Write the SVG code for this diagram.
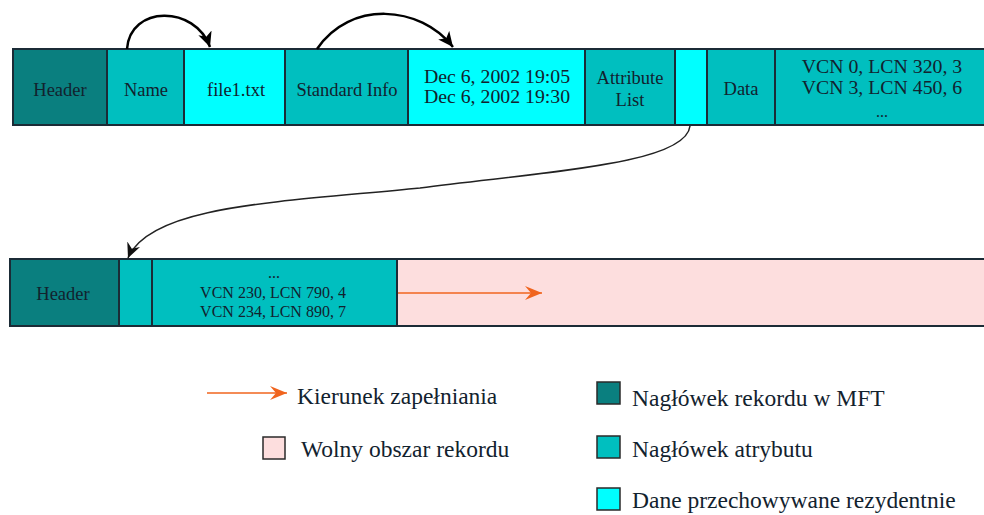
<svg xmlns="http://www.w3.org/2000/svg" width="984" height="515" viewBox="0 0 984 515">
  <style>
    .hdr { fill: #0a7f7f; }
    .att { fill: #00bfbf; }
    .res { fill: #00ffff; }
    .free { fill: #fddede; }
    .frame { fill: none; stroke: #1b2b36; stroke-width: 2; }
    .sep { stroke: #1b2b36; stroke-width: 2; }
    text { font-family: "Liberation Serif", "Times New Roman", serif; fill: #12222e; text-anchor: middle; }
    .t1 { font-size: 18.5px; }
    .tn { font-size: 19.8px; }
    .t2 { font-size: 16px; }
    .lg { font-size: 23.5px; text-anchor: start; }
    .jump { fill: none; stroke: #000; stroke-width: 2.5; }
    .link { fill: none; stroke: #222; stroke-width: 1.5; }
    .fill-dir { fill: none; stroke: #f0641e; stroke-width: 1.6; }
    .key { stroke: #2a2a2a; stroke-width: 1.5; }
  </style>
  <defs>
    <marker id="headBlack" markerUnits="userSpaceOnUse" markerWidth="16" markerHeight="14" viewBox="0 0 16 14" refX="15" refY="7" orient="auto">
      <path d="M0,0 L15,7 L0,14 L4,7 Z" fill="#000"/>
    </marker>
    <marker id="headThin" markerUnits="userSpaceOnUse" markerWidth="16" markerHeight="14" viewBox="0 0 16 14" refX="15" refY="7" orient="auto">
      <path d="M0,0 L15,7 L0,14 L5,7 Z" fill="#111"/>
    </marker>
    <marker id="headOrange" markerUnits="userSpaceOnUse" markerWidth="18" markerHeight="14" viewBox="0 0 18 14" refX="17" refY="7" orient="auto">
      <path d="M0,0 L17,7 L0,14 L6,7 Z" fill="#f0641e"/>
    </marker>
  </defs>

  <!-- MFT record: upper row -->
  <g id="rec1-header"><rect class="hdr" x="13" y="49" width="94" height="76"/><text class="t1" x="60" y="96">Header</text></g>
  <g id="rec1-name"><rect class="att" x="107" y="49" width="77" height="76"/><text class="t1" x="146" y="96">Name</text></g>
  <g id="rec1-name-data"><rect class="res" x="184" y="49" width="101" height="76"/><text class="t1" x="236" y="96">file1.txt</text></g>
  <g id="rec1-stdinfo"><rect class="att" x="285" y="49" width="123" height="76"/><text class="t1" x="347" y="96">Standard Info</text></g>
  <g id="rec1-stdinfo-data"><rect class="res" x="408" y="49" width="177" height="76"/><text class="tn" x="497" y="83">Dec 6, 2002 19:05</text><text class="tn" x="497" y="103">Dec 6, 2002 19:30</text></g>
  <g id="rec1-attrlist"><rect class="att" x="585" y="49" width="90" height="76"/><text class="t1" x="630" y="84">Attribute</text><text class="t1" x="630" y="106">List</text></g>
  <g id="rec1-attrlist-data"><rect class="res" x="675" y="49" width="32" height="76"/></g>
  <g id="rec1-data"><rect class="att" x="707" y="49" width="68" height="76"/><text class="t1" x="741" y="95">Data</text></g>
  <g id="rec1-runs"><rect class="att" x="775" y="49" width="212" height="76"/><text class="tn" x="882" y="73">VCN 0, LCN 320, 3</text><text class="tn" x="882" y="94">VCN 3, LCN 450, 6</text><text class="t2" x="882" y="117">...</text></g>
  <g id="rec1-lines">
    <rect class="frame" x="13" y="49" width="980" height="76"/>
    <line class="sep" x1="107" y1="49" x2="107" y2="125"/>
    <line class="sep" x1="184" y1="49" x2="184" y2="125"/>
    <line class="sep" x1="285" y1="49" x2="285" y2="125"/>
    <line class="sep" x1="408" y1="49" x2="408" y2="125"/>
    <line class="sep" x1="585" y1="49" x2="585" y2="125"/>
    <line class="sep" x1="675" y1="49" x2="675" y2="125"/>
    <line class="sep" x1="707" y1="49" x2="707" y2="125"/>
    <line class="sep" x1="775" y1="49" x2="775" y2="125"/>
  </g>

  <!-- MFT record: lower row (attribute list target) -->
  <g id="rec2-header"><rect class="hdr" x="10" y="259" width="109" height="67"/><text class="t1" x="63" y="300">Header</text></g>
  <g id="rec2-attr"><rect class="att" x="119" y="259" width="33" height="67"/></g>
  <g id="rec2-runs"><rect class="att" x="152" y="259" width="245" height="67"/><text class="t2" x="274" y="278">...</text><text class="t2" x="273" y="298">VCN 230, LCN 790, 4</text><text class="t2" x="273" y="317">VCN 234, LCN 890, 7</text></g>
  <g id="rec2-free"><rect class="free" x="397" y="259" width="596" height="67"/></g>
  <g id="rec2-lines">
    <rect class="frame" x="10" y="259" width="983" height="67"/>
    <line class="sep" x1="119" y1="259" x2="119" y2="326"/>
    <line class="sep" x1="152" y1="259" x2="152" y2="326"/>
    <line class="sep" x1="397" y1="259" x2="397" y2="326"/>
  </g>

  <!-- connectors -->
  <g id="connectors">
    <path class="jump" d="M127,49 C130,5 195,5 210,47" marker-end="url(#headBlack)"/>
    <path class="jump" d="M317,49 C350,0 420,5 453,47" marker-end="url(#headBlack)"/>
    <path class="link" d="M690,126 C686,165 540,172 420,188 C280,202 150,205 128,258" marker-end="url(#headThin)"/>
    <path class="fill-dir" d="M398,293 L542,293" marker-end="url(#headOrange)"/>
  </g>

  <!-- legend -->
  <g id="legend-direction">
    <path class="fill-dir" d="M207,393 L287,393" marker-end="url(#headOrange)"/>
    <text class="lg" x="297" y="404">Kierunek zapełniania</text>
  </g>
  <g id="legend-free">
    <rect class="free key" x="263" y="437" width="22" height="22"/>
    <text class="lg" x="301" y="457">Wolny obszar rekordu</text>
  </g>
  <g id="legend-record-header">
    <rect class="hdr key" x="597" y="382" width="23" height="22"/>
    <text class="lg" x="632" y="406">Nagłówek rekordu w MFT</text>
  </g>
  <g id="legend-attr-header">
    <rect class="att key" x="597" y="436" width="23" height="22"/>
    <text class="lg" x="632" y="457">Nagłówek atrybutu</text>
  </g>
  <g id="legend-resident">
    <rect class="res key" x="597" y="488" width="23" height="22"/>
    <text class="lg" x="632" y="508">Dane przechowywane rezydentnie</text>
  </g>
</svg>
